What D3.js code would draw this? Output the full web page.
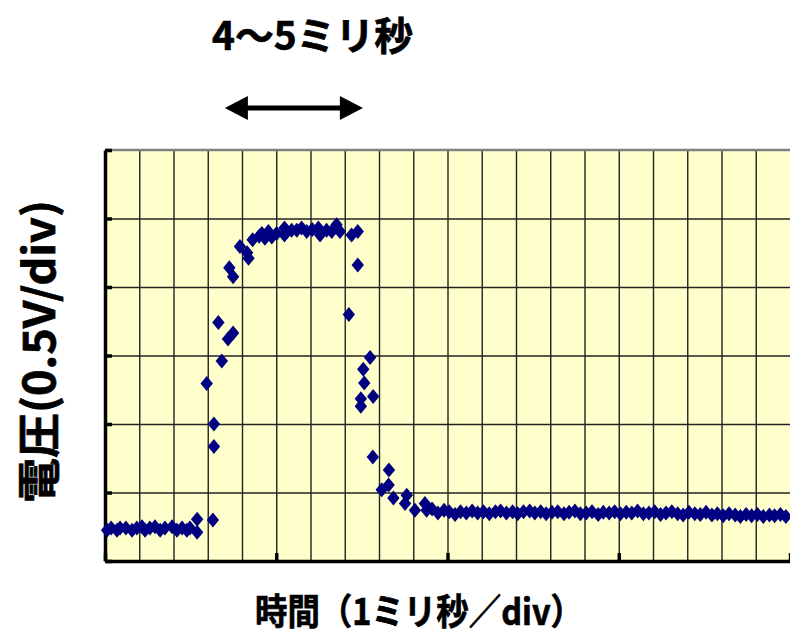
<!DOCTYPE html>
<html><head><meta charset="utf-8">
<script src="https://cdn.jsdelivr.net/npm/d3@7"></script>
<style>body{margin:0;background:#fff} svg{display:block}</style>
</head><body>
<svg id="c" width="790" height="635"></svg>
<script>
// ---- text ----
const titleText = "4～5ミリ秒";
const xLabelText = "時間（1ミリ秒／div）";
const yLabelText = "電圧(0.5V/div)";

// ---- axes / ticks (in divisions) ----
const xDomain = [0, 20];
const yDomain = [0, 6];
const xGridTicks = [1,2,3,4,5,6,7,8,9,10,11,12,13,14,15,16,17,18,19];
const xMajorTicks = [0,5,10,15,20];
const yGridTicks = [1,2,3,4,5];
const yMajorTicks = [0,1,2,3,4,5,6];
const arrowRange = [3.5, 7.53];   // the 4~5 ms span indicator (time, div)

// ---- data: time (1 ms/div) and voltage (0.5 V/div) ----
const timeDiv = [
 0.06,0.18,0.35,0.44,0.61,0.79,0.93,1.08,1.17,1.31,1.46,1.61,1.75,1.96,2.10,2.25,2.39,2.48,2.69,2.69,3.15,
 2.97,3.18,3.18,3.41,3.31,3.59,3.74,3.63,3.74,3.94,4.15,4.19,4.31,
 4.50,4.58,4.67,4.77,4.87,5.01,5.24,5.24,5.45,5.60,5.74,5.89,6.05,6.23,6.28,6.47,6.62,6.76,6.86,7.20,7.38,7.38,7.12,
 7.74,7.54,7.57,7.47,7.47,7.83,7.82,8.29,8.08,8.28,8.42,8.76,8.81,9.05,9.34,9.39,
 9.55,9.72,9.90,10.05,10.22,10.38,10.55,10.72,10.88,11.05,11.22,11.40,11.55,11.72,11.90,12.05,12.22,12.40,12.55,12.72,
 12.88,13.05,13.22,13.40,13.55,13.72,13.88,14.05,14.22,14.40,14.55,14.72,14.88,15.05,15.22,15.38,15.55,15.72,15.88,16.05,
 16.22,16.38,16.55,16.72,16.88,17.05,17.22,17.38,17.55,17.72,17.88,18.05,18.22,18.40,18.55,18.72,18.88,19.05,19.22,19.40,
 19.55,19.72,19.88
];
const voltageDiv = [
 0.45,0.48,0.45,0.48,0.48,0.45,0.48,0.50,0.45,0.48,0.50,0.45,0.48,0.50,0.45,0.48,0.45,0.48,0.61,0.42,0.60,
 2.59,2.00,1.67,2.92,3.48,3.24,3.33,4.28,4.15,4.59,4.50,4.42,4.69,
 4.74,4.78,4.71,4.81,4.73,4.78,4.86,4.76,4.83,4.83,4.86,4.81,4.84,4.86,4.76,4.83,4.81,4.91,4.81,4.76,4.81,4.32,3.60,
 2.97,2.80,2.60,2.37,2.26,2.40,1.52,1.33,1.04,1.11,0.92,0.84,0.96,0.74,0.84,0.74,
 0.76,0.70,0.74,0.72,0.68,0.72,0.70,0.73,0.70,0.72,0.69,0.72,0.73,0.70,0.72,0.69,0.72,0.73,0.70,0.72,
 0.69,0.71,0.72,0.69,0.71,0.73,0.69,0.70,0.72,0.68,0.71,0.70,0.72,0.69,0.71,0.70,0.73,0.69,0.70,0.72,
 0.68,0.70,0.72,0.69,0.67,0.71,0.69,0.68,0.71,0.67,0.69,0.66,0.69,0.67,0.65,0.68,0.66,0.68,0.65,0.67,
 0.66,0.68,0.65
];

// ---- layout ----
const plot = {left:105, right:790, top:150, bottom:561};
const svg = d3.select("#c");
const x = d3.scaleLinear().domain(xDomain).range([plot.left, plot.right]);
const y = d3.scaleLinear().domain(yDomain).range([plot.bottom, plot.top]);
const FONT = "'Noto Sans CJK JP','Noto Sans',sans-serif";

// background
svg.append("rect").attr("x",plot.left).attr("y",plot.top)
  .attr("width",plot.right-plot.left).attr("height",plot.bottom-plot.top)
  .attr("fill","#FFFFCC");

// grid
svg.append("g").attr("transform",`translate(0,${plot.bottom})`)
  .call(d3.axisBottom(x).tickValues(xGridTicks).tickSize(-(plot.bottom-plot.top)).tickFormat(""))
  .call(g=>g.select(".domain").remove())
  .call(g=>g.selectAll("line").attr("stroke","#222").attr("stroke-width",1.4));
svg.append("g").attr("transform",`translate(${plot.left},0)`)
  .call(d3.axisLeft(y).tickValues(yGridTicks).tickSize(-(plot.right-plot.left)).tickFormat(""))
  .call(g=>g.select(".domain").remove())
  .call(g=>g.selectAll("line").attr("stroke","#222").attr("stroke-width",1.4));

// top border (grey)
svg.append("line").attr("x1",plot.left).attr("x2",plot.right)
  .attr("y1",y(yDomain[1])).attr("y2",y(yDomain[1]))
  .attr("stroke","#808080").attr("stroke-width",2.5);

// axes (inside ticks)
svg.append("g").attr("transform",`translate(0,${plot.bottom})`)
  .call(d3.axisBottom(x).tickValues(xMajorTicks).tickSize(-8).tickSizeOuter(0).tickFormat(""))
  .call(g=>g.select(".domain").attr("stroke","#000").attr("stroke-width",3.5))
  .call(g=>g.selectAll(".tick line").attr("stroke","#000").attr("stroke-width",3.5));
svg.append("g").attr("transform",`translate(${plot.left},0)`)
  .call(d3.axisLeft(y).tickValues(yMajorTicks).tickSize(-7).tickSizeOuter(0).tickFormat(""))
  .call(g=>g.select(".domain").attr("stroke","#000").attr("stroke-width",3.5))
  .call(g=>g.selectAll(".tick line").attr("stroke","#000").attr("stroke-width",3.5));

// markers
const diamond = "M0,-7.5L6.2,0L0,7.5L-6.2,0Z";
svg.append("g").selectAll("path").data(timeDiv.map((t,i)=>[t,voltageDiv[i]]))
  .join("path").attr("d",diamond)
  .attr("transform",d=>`translate(${x(d[0])},${y(d[1])})`)
  .attr("fill","#000080");

// text style helper
const bold = sel => sel.attr("font-family",FONT).attr("font-weight","bold")
  .attr("fill","#000").attr("stroke","#000").attr("stroke-width",0.7)
  .attr("lengthAdjust","spacingAndGlyphs");

// title
svg.append("text").attr("x",212).attr("y",50).attr("font-size",39)
  .attr("textLength",201).call(bold).text(titleText);

// double arrow
const ay = 108, ax0 = x(arrowRange[0]), ax1 = x(arrowRange[1]);
const headL = 23, headH = 12;
svg.append("line").attr("x1",ax0+headL-2).attr("x2",ax1-headL+2).attr("y1",ay).attr("y2",ay)
  .attr("stroke","#000").attr("stroke-width",5);
svg.append("path").attr("d",`M${ax0},${ay}L${ax0+headL},${ay-headH}L${ax0+headL},${ay+headH}Z`).attr("fill","#000");
svg.append("path").attr("d",`M${ax1},${ay}L${ax1-headL},${ay-headH}L${ax1-headL},${ay+headH}Z`).attr("fill","#000");

// x label
svg.append("text").attr("x",255).attr("y",625).attr("font-size",36)
  .attr("textLength",328).call(bold).text(xLabelText);

// y label
svg.append("text").attr("transform","translate(55,503) rotate(-90)").attr("font-size",43)
  .attr("textLength",303).call(bold).text(yLabelText);
</script>
</body></html>
